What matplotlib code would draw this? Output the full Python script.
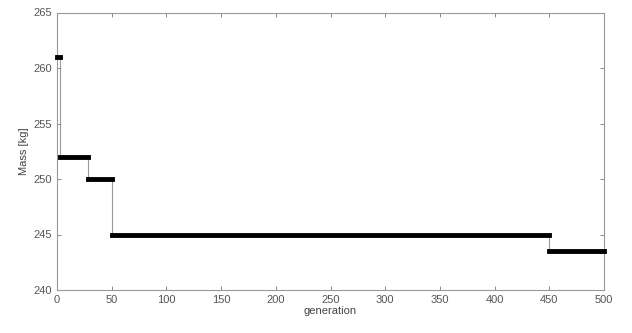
import matplotlib
matplotlib.use("Agg")
import matplotlib.pyplot as plt

# step change points (generation) and mass values
gen_start = [0, 3, 28, 50, 450]
gen_end = [3, 28, 50, 450, 500]
mass = [261, 252, 250, 245, 243.5]

plt.rcParams['font.family'] = ['Liberation Sans', 'DejaVu Sans']
fig = plt.figure(figsize=(6.32, 3.33), dpi=100)
ax = fig.add_axes([57/632, 1-290/333, (604-57)/632, (290-12.5)/333])

gray = '#777777'
# thin connecting line
xs, ys = [], []
for s, e, m in zip(gen_start, gen_end, mass):
    xs += [s, e]
    ys += [m, m]
ax.plot(xs, ys, color='#999999', lw=0.8, zorder=2)
# thick segments
for s, e, m in zip(gen_start, gen_end, mass):
    ax.plot([s, e], [m, m], color='black', lw=3.5, solid_capstyle='projecting',
            zorder=3, clip_on=False)

ax.set_xlim(0, 500)
ax.set_ylim(240, 265)
ax.set_xticks(range(0, 501, 50))
ax.set_yticks(range(240, 266, 5))
ax.tick_params(direction='in', length=3, width=0.6, colors=gray, labelsize=8,
               top=True, right=True, labelcolor='#555555')
for sp in ax.spines.values():
    sp.set_color('#999999')
    sp.set_linewidth(0.8)
ax.set_xlabel('generation', fontsize=8, color='#444444', labelpad=1)
ax.set_ylabel('Mass [kg]', fontsize=8, color='#444444', labelpad=3)
fig.savefig('out.png', dpi=100)
